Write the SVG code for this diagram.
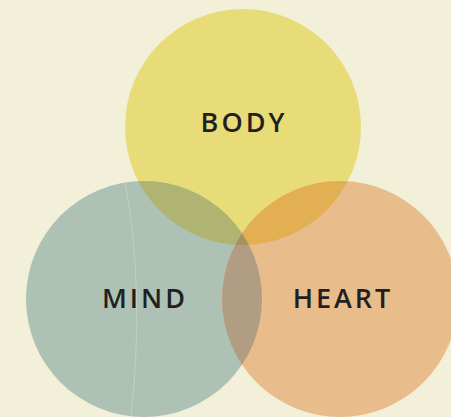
<svg xmlns="http://www.w3.org/2000/svg" width="451" height="417" viewBox="0 0 451 417">
<defs>
<style>
.lbl{font-family:"Open Sans","Liberation Sans",sans-serif;font-weight:600;font-size:27px;letter-spacing:3px;fill:#231f20;text-anchor:middle}
</style>
<clipPath id="cBody"><circle cx="243" cy="127" r="118"/></clipPath>
<clipPath id="cMind"><circle cx="144" cy="299" r="118"/></clipPath>
<clipPath id="cHeart"><circle cx="340" cy="299" r="118"/></clipPath>
</defs>
<rect width="451" height="417" fill="#f2f0d8"/>
<g id="body"><circle cx="243" cy="127" r="118" fill="#e8dc78"/></g>
<g id="mind"><circle cx="144" cy="299" r="118" fill="#adc1b5"/>
<path d="M125,181 Q145,290 131,417" fill="none" stroke="#cbd7cc" stroke-width="0.7"/></g>
<g id="heart"><circle cx="340" cy="299" r="118" fill="#e8bc8b"/></g>
<g id="overlaps">
<g clip-path="url(#cBody)"><circle cx="144" cy="299" r="118" fill="#b0b472"/></g>
<g clip-path="url(#cBody)"><circle cx="340" cy="299" r="118" fill="#e2b052"/></g>
<g clip-path="url(#cMind)"><circle cx="340" cy="299" r="118" fill="#b09d83"/></g>
<g clip-path="url(#cMind)"><g clip-path="url(#cHeart)"><circle cx="243" cy="127" r="118" fill="#a4925e"/></g></g>
</g>
<g id="labels">
<text class="lbl" x="244" y="132">BODY</text>
<text class="lbl" x="145" y="308">MIND</text>
<text class="lbl" x="343" y="308">HEART</text>
</g>
</svg>
